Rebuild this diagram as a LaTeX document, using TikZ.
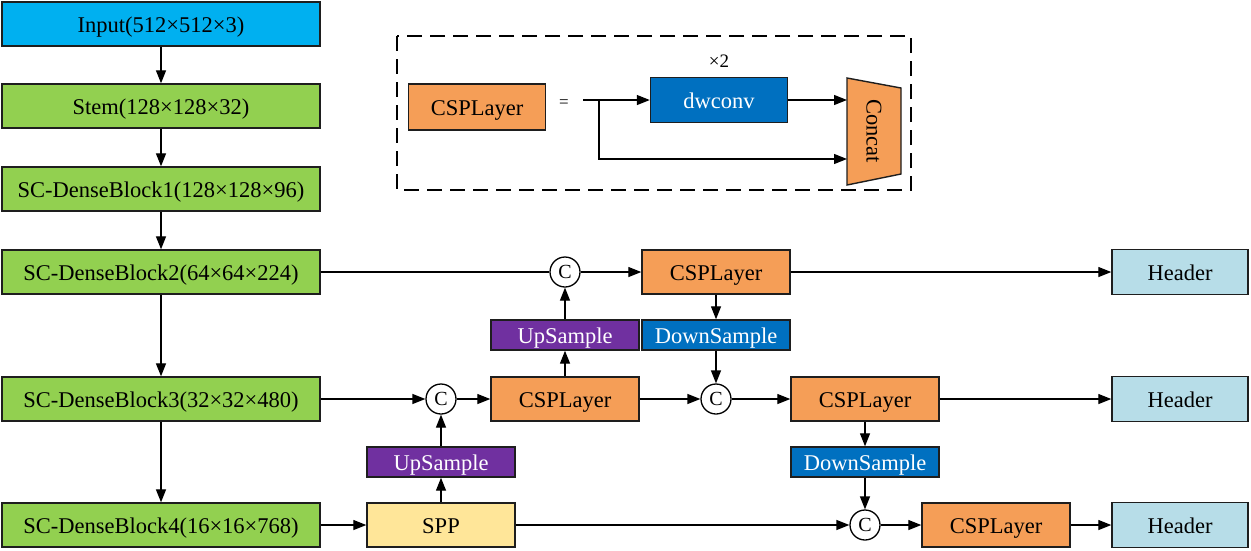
\documentclass[tikz,border=0pt]{standalone}
\usepackage{fontspec}
\setmainfont{Liberation Serif}
\usetikzlibrary{arrows.meta}

\begin{document}
\begin{tikzpicture}[x=1pt,y=1pt,yscale=-1,
	box/.style={draw={rgb, 255:red, 30; green, 30; blue, 30}, line width=1.4pt, inner sep=0pt, text height=19pt, text depth=2pt, font=\fontsize{22.5}{25}\selectfont},
	block/.style={box, minimum width=318pt, minimum height=44pt, fill={rgb, 255:red, 146; green, 208; blue, 80}},
	csp/.style={box, minimum width=148pt, minimum height=44pt, fill={rgb, 255:red, 245; green, 158; blue, 87}},
	head/.style={box, minimum width=136pt, minimum height=45pt, fill={rgb, 255:red, 183; green, 221; blue, 232}},
	upbox/.style={box, minimum width=148pt, minimum height=30pt, text=white, fill={rgb, 255:red, 112; green, 48; blue, 160}},
	downbox/.style={box, minimum width=148pt, minimum height=30pt, text=white, fill={rgb, 255:red, 0; green, 112; blue, 192}},
	cat/.style={draw, circle, line width=1.3pt, fill=white, minimum size=30pt, inner sep=0pt, font=\fontsize{20}{20}\selectfont},
	arr/.style={line width=1.3pt, -{Triangle[length=13pt,width=10pt]}},
	ln/.style={line width=1.3pt}]
	\useasboundingbox (0,0) rectangle (1251,550);

	\node [block, fill={rgb, 255:red, 0; green, 176; blue, 240}] (in) at (161,24) {Input(512×512×3)};
	\node [block] (stem) at (161,106) {Stem(128×128×32)};
	\node [block] (b1) at (161,189) {SC-DenseBlock1(128×128×96)};
	\node [block] (b2) at (161,272) {SC-DenseBlock2(64×64×224)};
	\node [block] (b3) at (161,399) {SC-DenseBlock3(32×32×480)};
	\node [block] (b4) at (161,525) {SC-DenseBlock4(16×16×768)};

	\node [cat] (c1) at (565,272) {C};
	\node [csp] (csp1) at (716,272) {CSPLayer};
	\node [head] (h1) at (1180,272) {Header};
	\node [upbox] (up1) at (565,335) {UpSample};
	\node [downbox] (dn1) at (716,335) {DownSample};

	\node [cat] (c2) at (441,399) {C};
	\node [csp] (csp2) at (565,399) {CSPLayer};
	\node [cat] (c3) at (716,399) {C};
	\node [csp] (csp3) at (865,399) {CSPLayer};
	\node [head] (h2) at (1180,399) {Header};
	\node [upbox] (up2) at (441,462) {UpSample};
	\node [downbox] (dn2) at (865,462) {DownSample};

	\node [csp, fill={rgb, 255:red, 255; green, 230; blue, 153}] (spp) at (441,525) {SPP};
	\node [cat] (c4) at (865,525) {C};
	\node [csp] (csp4) at (996,525) {CSPLayer};
	\node [head] (h3) at (1180,525) {Header};

	\draw [arr] (in) -- (stem);
	\draw [arr] (stem) -- (b1);
	\draw [arr] (b1) -- (b2);
	\draw [arr] (b2) -- (b3);
	\draw [arr] (b3) -- (b4);

	\draw [ln] (b2) -- (c1);
	\draw [arr] (c1) -- (csp1);
	\draw [arr] (csp1) -- (h1);
	\draw [arr] (csp1) -- (dn1);
	\draw [arr] (dn1) -- (c3);
	\draw [arr] (csp2) -- (up1);
	\draw [arr] (up1) -- (c1);

	\draw [arr] (b3) -- (c2);
	\draw [arr] (c2) -- (csp2);
	\draw [arr] (csp2) -- (c3);
	\draw [arr] (c3) -- (csp3);
	\draw [arr] (csp3) -- (h2);
	\draw [arr] (csp3) -- (dn2);
	\draw [arr] (dn2) -- (c4);

	\draw [arr] (b4) -- (spp);
	\draw [arr] (spp) -- (up2);
	\draw [arr] (up2) -- (c2);
	\draw [arr] (spp) -- (c4);
	\draw [arr] (c4) -- (csp4);
	\draw [arr] (csp4) -- (h3);

	\draw [line width=1.3pt, dash pattern=on 15pt off 8pt] (397,36) rectangle (911,190);
	\node [csp, minimum width=137pt, minimum height=46pt] (icsp) at (477,107) {CSPLayer};
	\node [font=\fontsize{17}{17}\selectfont] (eq) at (564,104) {=};
	\node [downbox, minimum width=137pt, minimum height=45pt] (dw) at (719,100) {dwconv};
	\node [font=\fontsize{19}{19}\selectfont] (x2) at (719,61) {×2};
	\draw [box, fill={rgb, 255:red, 245; green, 158; blue, 87}] (847,78) -- (901,88) -- (901,174) -- (847,185) -- cycle;
	\node [rotate=-90, font=\fontsize{22.5}{25}\selectfont] (concat) at (874,131) {Concat};
	\coordinate (src) at (583,100);
	\coordinate (fork) at (599,100);
	\coordinate (catin) at (847,159);
	\draw [arr] (src) -- (dw);
	\draw [arr] (dw) -- (dw -| catin);
	\draw [arr] (fork) |- (catin);
\end{tikzpicture}
\end{document}
